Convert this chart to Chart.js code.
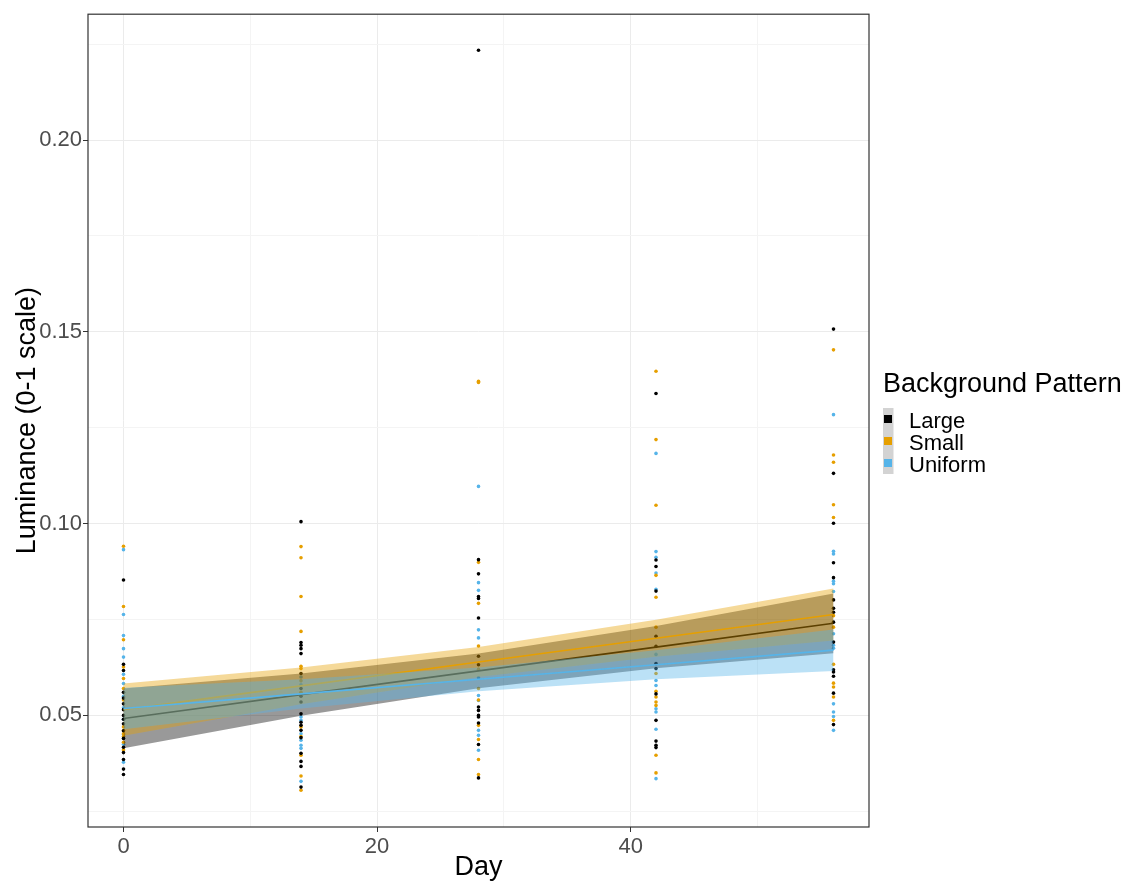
<!DOCTYPE html>
<html>
<head>
<meta charset="utf-8">
<title>Luminance by day</title>
<script src="https://cdn.jsdelivr.net/npm/chart.js@4.4.0/dist/chart.umd.min.js"></script>
<style>
  html, body { margin: 0; padding: 0; background: #fff; }
  canvas { display: block; }
</style>
</head>
<body>
<canvas id="lumChart" width="1134" height="884"></canvas>
<script>
const days = [0, 14, 28, 42, 56];
const groups = ["Large", "Small", "Uniform"];
const groupColors = ["#000000", "#E69F00", "#56B4E9"];
const ribbonColors = ["rgba(0,0,0,0.4)", "rgba(230,159,0,0.4)", "rgba(86,180,233,0.4)"];

// luminance readings, one inner array per sampling day
const largeValues = [
  [0.0853, 0.0633, 0.0617, 0.0560, 0.0545, 0.0530, 0.0515, 0.0500, 0.0490, 0.0478, 0.0460, 0.0440, 0.0417, 0.0403, 0.0385, 0.0360, 0.0346],
  [0.1005, 0.0690, 0.0683, 0.0674, 0.0661, 0.0609, 0.0570, 0.0550, 0.0535, 0.0504, 0.0482, 0.0474, 0.0461, 0.0442, 0.0401, 0.0380, 0.0367, 0.0313],
  [0.2234, 0.0906, 0.0869, 0.0810, 0.0805, 0.0754, 0.0654, 0.0632, 0.0522, 0.0513, 0.0500, 0.0496, 0.0480, 0.0424, 0.0337],
  [0.1339, 0.0905, 0.0888, 0.0824, 0.0706, 0.0680, 0.0635, 0.0622, 0.0556, 0.0487, 0.0433, 0.0422, 0.0416],
  [0.1507, 0.1131, 0.1001, 0.0898, 0.0859, 0.0801, 0.0779, 0.0769, 0.0743, 0.0691, 0.0619, 0.0613, 0.0602, 0.0558, 0.0476]
];
const smallValues = [
  [0.0941, 0.0784, 0.0697, 0.0626, 0.0596, 0.0570, 0.0540, 0.0470, 0.0460, 0.0452, 0.0445, 0.0430, 0.0410],
  [0.0940, 0.0911, 0.0810, 0.0719, 0.0628, 0.0622, 0.0590, 0.0560, 0.0470, 0.0445, 0.0396, 0.0342, 0.0305],
  [0.1371, 0.1368, 0.0899, 0.0792, 0.0681, 0.0620, 0.0570, 0.0540, 0.0474, 0.0437, 0.0385, 0.0346],
  [0.1397, 0.1219, 0.1048, 0.0865, 0.0808, 0.0730, 0.0609, 0.0563, 0.0548, 0.0535, 0.0526, 0.0396, 0.0350],
  [0.1453, 0.1179, 0.1160, 0.1049, 0.1016, 0.0760, 0.0730, 0.0633, 0.0584, 0.0574, 0.0548, 0.0487]
];
const uniformValues = [
  [0.0932, 0.0763, 0.0708, 0.0674, 0.0652, 0.0607, 0.0583, 0.0550, 0.0520, 0.0490, 0.0450, 0.0440, 0.0425, 0.0378],
  [0.0600, 0.0580, 0.0496, 0.0487, 0.0452, 0.0435, 0.0422, 0.0414, 0.0328],
  [0.1097, 0.0846, 0.0826, 0.0723, 0.0702, 0.0598, 0.0552, 0.0539, 0.0461, 0.0448, 0.0409],
  [0.1183, 0.0927, 0.0912, 0.0871, 0.0829, 0.0659, 0.0591, 0.0578, 0.0517, 0.0509, 0.0464, 0.0335],
  [0.1284, 0.0928, 0.0921, 0.0850, 0.0843, 0.0823, 0.0713, 0.0683, 0.0675, 0.0530, 0.0509, 0.0497, 0.0461]
];

// linear fits and confidence bands at each sampling day
const largeFit = [0.0492, 0.0554, 0.0616, 0.0678, 0.0740];
const largeLower = [0.0414, 0.0499, 0.0571, 0.0623, 0.0662];
const largeUpper = [0.0570, 0.0609, 0.0661, 0.0733, 0.0818];
const smallFit = [0.0515, 0.0577, 0.0639, 0.0701, 0.0763];
const smallLower = [0.0447, 0.0529, 0.0600, 0.0653, 0.0695];
const smallUpper = [0.0583, 0.0625, 0.0678, 0.0749, 0.0831];
const uniformFit = [0.0518, 0.0556, 0.0594, 0.0632, 0.0670];
const uniformLower = [0.0464, 0.0518, 0.0563, 0.0594, 0.0616];
const uniformUpper = [0.0572, 0.0594, 0.0625, 0.0670, 0.0724];

const yMajorTicks = [0.05, 0.10, 0.15, 0.20];
const yMinorTicks = [0.025, 0.075, 0.125, 0.175, 0.225];
const xMajorTicks = [0, 20, 40];
const xMinorTicks = [10, 30, 50];

const FONT = '"Liberation Sans", Arial, sans-serif';

function toPoints(values) {
  const pts = [];
  values.forEach((col, i) => col.forEach((v) => pts.push({ x: days[i], y: v })));
  return pts;
}

function toLine(ys) {
  return ys.map((y, i) => ({ x: days[i], y: y }));
}

// panel outline drawn over the data, like a ggplot panel border
const panelBorder = {
  id: "panelBorder",
  afterDatasetsDraw(chart) {
    const { ctx, chartArea: a } = chart;
    ctx.save();
    ctx.strokeStyle = "#333333";
    ctx.lineWidth = 1.2;
    ctx.strokeRect(a.left, a.top, a.right - a.left, a.bottom - a.top);
    ctx.restore();
  }
};

// legend on the right: title, grey key strip, coloured squares, labels
const patternLegend = {
  id: "patternLegend",
  afterDraw(chart) {
    const ctx = chart.ctx;
    ctx.save();
    ctx.textBaseline = "alphabetic";
    ctx.textAlign = "left";
    ctx.fillStyle = "#000";
    ctx.font = "27px " + FONT;
    ctx.fillText("Background Pattern", 883, 392);
    ctx.fillStyle = "#d3d3d3";
    ctx.fillRect(883, 408, 10.5, 66);
    ctx.font = "22px " + FONT;
    groups.forEach((name, i) => {
      const cy = 419 + i * 22;
      ctx.fillStyle = groupColors[i];
      ctx.fillRect(884, cy - 4, 8, 8);
      ctx.fillStyle = "#000";
      ctx.fillText(name, 909, 428 + i * 22);
    });
    ctx.restore();
  }
};

document.addEventListener("DOMContentLoaded", function () {
  const ctx = document.getElementById("lumChart").getContext("2d");

  const pointSets = [largeValues, smallValues, uniformValues];
  const fits = [largeFit, smallFit, uniformFit];
  const lowers = [largeLower, smallLower, uniformLower];
  const uppers = [largeUpper, smallUpper, uniformUpper];

  const datasets = [];

  // raw points sit underneath the ribbons
  pointSets.forEach((values, g) => {
    datasets.push({
      label: groups[g],
      data: toPoints(values),
      showLine: false,
      pointRadius: 1.8,
      pointBorderWidth: 0,
      pointBackgroundColor: groupColors[g],
      pointBorderColor: groupColors[g],
      order: 100
    });
  });

  // each group: ribbon (upper + lower filled to it), then its fit line
  groups.forEach((name, g) => {
    const upperIndex = datasets.length;
    datasets.push({
      label: name + " upper",
      data: toLine(uppers[g]),
      showLine: true,
      borderWidth: 0,
      borderColor: "rgba(0,0,0,0)",
      pointRadius: 0,
      fill: false,
      order: 90 - g * 10
    });
    datasets.push({
      label: name + " lower",
      data: toLine(lowers[g]),
      showLine: true,
      borderWidth: 0,
      borderColor: "rgba(0,0,0,0)",
      backgroundColor: ribbonColors[g],
      pointRadius: 0,
      fill: upperIndex,
      order: 89 - g * 10
    });
    datasets.push({
      label: name + " fit",
      data: toLine(fits[g]),
      showLine: true,
      borderWidth: 1.6,
      borderColor: groupColors[g],
      pointRadius: 0,
      fill: false,
      order: 88 - g * 10
    });
  });

  new Chart(ctx, {
    type: "scatter",
    data: { datasets: datasets },
    options: {
      responsive: false,
      animation: false,
      devicePixelRatio: 1,
      layout: { padding: { top: 13, right: 265, left: 0, bottom: 0 } },
      plugins: {
        legend: { display: false },
        tooltip: { enabled: false },
        filler: { propagate: false }
      },
      scales: {
        x: {
          type: "linear",
          min: -2.8,
          max: 58.8,
          afterBuildTicks: (scale) => {
            scale.ticks = xMajorTicks.concat(xMinorTicks).sort((a, b) => a - b).map((v) => ({ value: v }));
          },
          afterFit: (scale) => { scale.height = 57; },
          ticks: {
            autoSkip: false,
            maxRotation: 0,
            padding: 2,
            color: "#4D4D4D",
            font: { family: FONT, size: 22 },
            callback: (v) => (xMajorTicks.includes(v) ? String(v) : "")
          },
          grid: {
            color: (c) => (xMajorTicks.includes(c.tick.value) ? "#EBEBEB" : "#F4F4F4"),
            lineWidth: 1,
            tickLength: 5,
            tickColor: (c) => (xMajorTicks.includes(c.tick.value) ? "#333333" : "rgba(0,0,0,0)")
          },
          border: { display: false },
          title: {
            display: true,
            text: "Day",
            color: "#000",
            font: { family: FONT, size: 27 },
            padding: { top: 0, bottom: 0 }
          }
        },
        y: {
          type: "linear",
          min: 0.0209,
          max: 0.2328,
          afterBuildTicks: (scale) => {
            scale.ticks = yMajorTicks.concat(yMinorTicks).sort((a, b) => a - b).map((v) => ({ value: v }));
          },
          afterFit: (scale) => { scale.width = 88; },
          ticks: {
            autoSkip: false,
            padding: 1,
            color: "#4D4D4D",
            font: { family: FONT, size: 22 },
            callback: (v) => (yMajorTicks.includes(v) ? v.toFixed(2) : "")
          },
          grid: {
            color: (c) => (yMajorTicks.includes(c.tick.value) ? "#EBEBEB" : "#F4F4F4"),
            lineWidth: 1,
            tickLength: 5,
            tickColor: (c) => (yMajorTicks.includes(c.tick.value) ? "#333333" : "rgba(0,0,0,0)")
          },
          border: { display: false },
          title: {
            display: true,
            text: "Luminance (0-1 scale)",
            color: "#000",
            font: { family: FONT, size: 27 },
            padding: { top: 11, bottom: 0 }
          }
        }
      }
    },
    plugins: [panelBorder, patternLegend]
  });
});
</script>
</body>
</html>
